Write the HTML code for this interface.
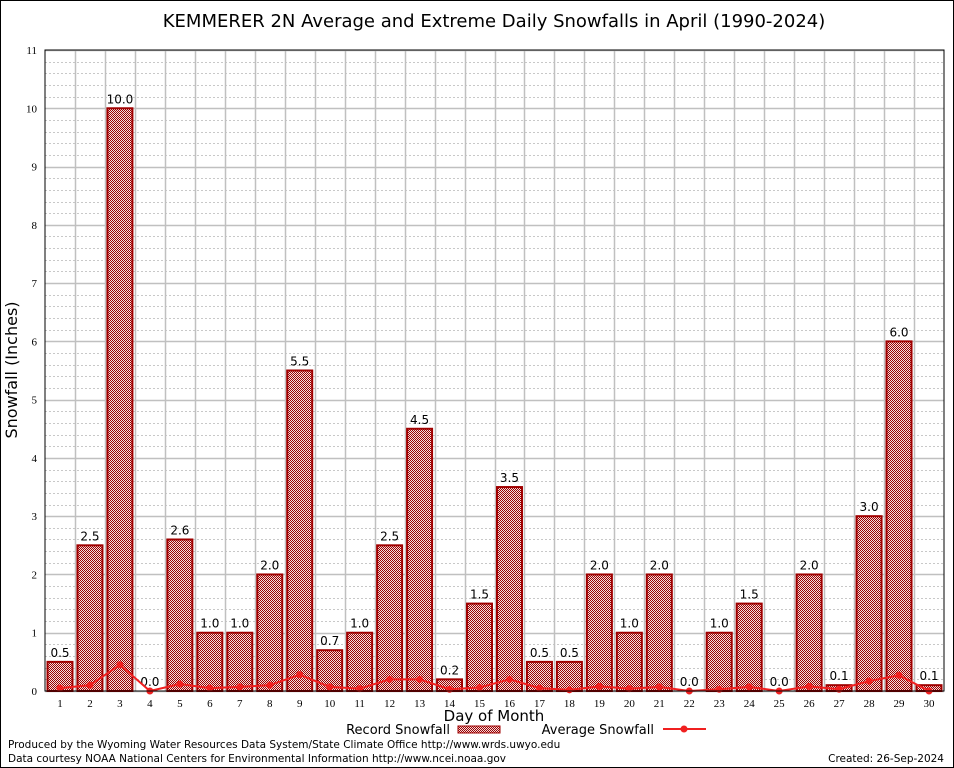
<!DOCTYPE html>
<html><head><meta charset="utf-8"><style>
body{margin:0;background:#fff;}
svg{display:block;font-family:"DejaVu Sans","Liberation Sans",sans-serif;}
</style></head><body>
<svg id="c" width="954" height="768">
<defs>
<pattern id="chk" width="2" height="2" patternUnits="userSpaceOnUse">
<rect width="2" height="2" fill="#f4dede"/><rect width="1" height="1" fill="#9a0000"/><rect x="1" y="1" width="1" height="1" fill="#9a0000"/>
</pattern>
</defs>
<rect x="0.5" y="0.5" width="953" height="767" fill="#fff" stroke="#000"/>
<text x="494" y="27" font-size="18" text-anchor="middle">KEMMERER 2N Average and Extreme Daily Snowfalls in April (1990-2024)</text>
<g id="grid"></g>
<g id="bars"></g>
<g id="line"></g>
<g id="axes"></g>
<text transform="translate(17,370) rotate(-90)" font-size="16" text-anchor="middle">Snowfall (Inches)</text>
<text x="494" y="721" font-size="15" text-anchor="middle">Day of Month</text>
<g>
<text x="450" y="734" font-size="13" text-anchor="end">Record Snowfall</text>
<rect x="458" y="726" width="42" height="7" fill="url(#chk)" stroke="#a00000"/>
</g>
<g>
<text x="654" y="734" font-size="13" text-anchor="end">Average Snowfall</text>
<line x1="663" y1="729" x2="706" y2="729" stroke="#f02020" stroke-width="2"/>
<circle cx="684" cy="729" r="3.5" fill="#f02020"/>
</g>
<text x="8" y="748" font-size="10.5">Produced by the Wyoming Water Resources Data System/State Climate Office http://www.wrds.uwyo.edu</text>
<text x="8" y="762" font-size="10.5">Data courtesy NOAA National Centers for Environmental Information http://www.ncei.noaa.gov</text>
<text x="944" y="762" font-size="10.5" text-anchor="end">Created: 26-Sep-2024</text>
</svg>
<script>
const days=[1,2,3,4,5,6,7,8,9,10,11,12,13,14,15,16,17,18,19,20,21,22,23,24,25,26,27,28,29,30];
const recordVals=[0.5,2.5,10.0,0.0,2.6,1.0,1.0,2.0,5.5,0.7,1.0,2.5,4.5,0.2,1.5,3.5,0.5,0.5,2.0,1.0,2.0,0.0,1.0,1.5,0.0,2.0,0.1,3.0,6.0,0.1];
const avgVals=[0.05,0.1,0.45,0.0,0.12,0.05,0.07,0.1,0.28,0.07,0.04,0.2,0.2,0.03,0.06,0.2,0.05,0.02,0.08,0.04,0.07,0.0,0.03,0.07,0.0,0.08,0.03,0.17,0.27,0.0];
const yTicks=[0,1,2,3,4,5,6,7,8,9,10,11];
const NS="http://www.w3.org/2000/svg";
const L=45,R=944,T=50,B=691;
const x=d=>60+(d-1)*(929-60)/29;
const y=v=>B-v*(B-T)/11;
function mk(tag,attrs,parent){const e=document.createElementNS(NS,tag);for(const k in attrs)e.setAttribute(k,attrs[k]);document.getElementById(parent).appendChild(e);return e;}
for(let v=0;v<=11;v+=0.2){const yy=Math.round(y(v))+0.5;const major=Math.abs(v-Math.round(v))<1e-6;
const g=mk('line',{x1:L,x2:R,y1:yy,y2:yy,stroke:major?'#c0c0c0':'#c8c8c8','stroke-width':major?1.5:1,'stroke-dasharray':major?'':'2,2'},'grid');

}
for(let d=1.5;d<30;d++){const xx=Math.round(x(d))+0.5;
const g=mk('line',{x1:xx,x2:xx,y1:T,y2:B,stroke:'#c0c0c0','stroke-width':1.5},'grid');

}
days.forEach((d,i)=>{const v=recordVals[i];const top=y(v);
const r=mk('rect',{x:x(d)-12.5,y:top,width:25,height:Math.max(B-top,0),fill:'url(#chk)',stroke:'#a00000','stroke-width':2},'bars');


const t=mk('text',{x:x(d),y:top-5,'font-size':12,'text-anchor':'middle'},'bars');t.textContent=v.toFixed(1);

});
const pl=mk('polyline',{points:days.map((d,i)=>x(d)+','+y(avgVals[i])).join(' '),fill:'none',stroke:'#f02020','stroke-width':2},'line');


days.forEach((d,i)=>{const c=mk('circle',{cx:x(d),cy:y(avgVals[i]),r:3.5,fill:'#f02020'},'line');

});
const fr=mk('rect',{x:L,y:T,width:R-L,height:B-T,fill:'none',stroke:'#000'},'axes');


yTicks.forEach(v=>{const t=mk('text',{x:L-8,y:y(v)+4,'font-size':11,'text-anchor':'end','font-family':'Liberation Serif'},'axes');t.textContent=v;

});
days.forEach(d=>{const t=mk('text',{x:x(d),y:B+16,'font-size':11,'text-anchor':'middle','font-family':'Liberation Serif'},'axes');t.textContent=d;

});
</script>
</body></html>
